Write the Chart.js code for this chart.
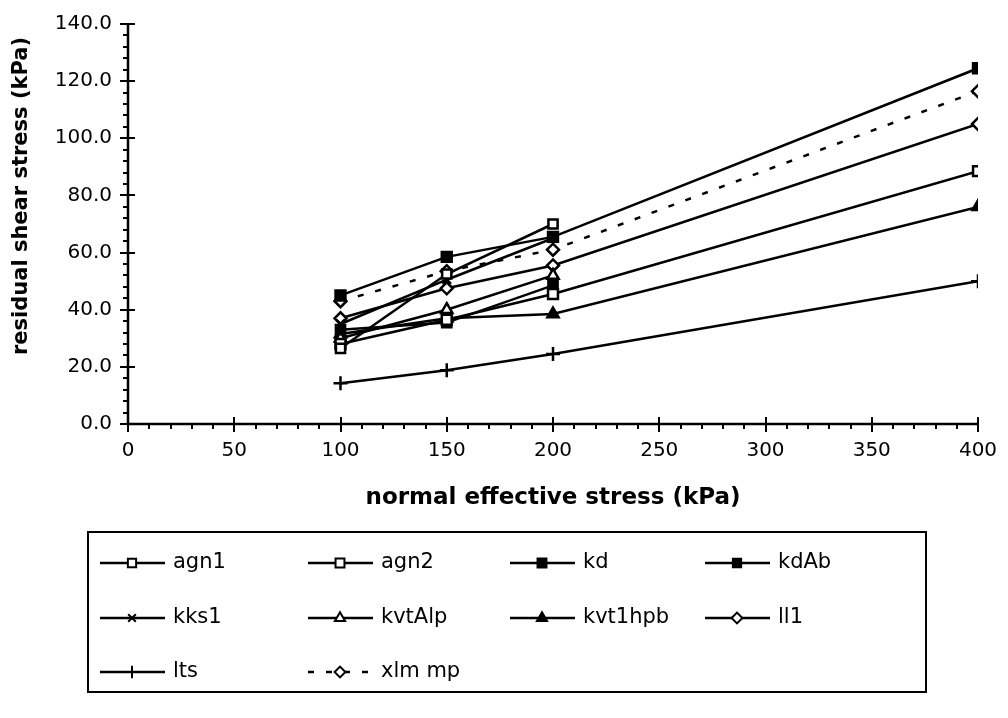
<!DOCTYPE html>
<html>
<head>
<meta charset="utf-8">
<script src="https://cdn.jsdelivr.net/npm/chart.js@4.4.0/dist/chart.umd.min.js"></script>
<style>
    html, body { margin: 0; padding: 0; background: #fff; }
</style>
</head>
<body>
<canvas id="myChart" width="1008" height="718"></canvas>
<script>
// normal effective stress levels (kPa)
const normalStress = [100, 150, 200, 400];

// residual shear stress (kPa) per sample, null where not tested
const agn1   = [26.5, 52.5, 70.0, null];
const agn2   = [28.0, 36.5, 45.5, 88.5];
const kd     = [45.0, 58.5, 65.5, 124.5];
const kdAb   = [33.0, 35.5, 48.5, null];
const kks1   = [35.0, 50.5, 65.0, null];
const kvtAlp = [30.0, 40.0, 52.0, null];
const kvt1hpb = [31.5, 37.0, 38.5, 76.0];
const ll1    = [37.0, 47.5, 55.5, 105.0];
const lts    = [14.3, 18.8, 24.5, 50.0];
const xlmMp  = [43.0, 53.5, 61.0, 116.5];

const seriesNames = ["agn1", "agn2", "kd", "kdAb", "kks1", "kvtAlp", "kvt1hpb", "ll1", "lts", "xlm mp"];
const seriesValues = [agn1, agn2, kd, kdAb, kks1, kvtAlp, kvt1hpb, ll1, lts, xlmMp];

const yTicks = [0, 20, 40, 60, 80, 100, 120, 140];
const xTicks = [0, 50, 100, 150, 200, 250, 300, 350, 400];

// marker look for each series
const markers = [
    { style: "rect", fill: "#fff", r: 6.5 },
    { style: "rect", fill: "#fff", r: 7 },
    { style: "rect", fill: "#000", r: 7 },
    { style: "rect", fill: "#000", r: 6.5 },
    { style: "crossRot", fill: "#fff", r: 6 },
    { style: "triangle", fill: "#fff", r: 6.5 },
    { style: "triangle", fill: "#000", r: 6.5 },
    { style: "rectRot", fill: "#fff", r: 6 },
    { style: "cross", fill: "#000", r: 7 },
    { style: "rectRot", fill: "#fff", r: 6 }
];

const FONT = "'DejaVu Sans', sans-serif";

const datasets = seriesNames.map((name, i) => ({
    label: name,
    data: normalStress.map((x, j) => ({ x: x, y: seriesValues[i][j] })),
    borderColor: "#000",
    borderWidth: 2.5,
    borderDash: name === "xlm mp" ? [6, 12] : [],
    pointStyle: markers[i].style,
    pointRadius: markers[i].r,
    pointBackgroundColor: markers[i].fill,
    pointBorderColor: "#000",
    pointBorderWidth: 2.5,
    spanGaps: false,
    tension: 0
}));

// axis lines with major and minor tick marks, plus the y axis title
const axisTicks = {
    id: "axisTicks",
    afterDraw(chart) {
        const { ctx, chartArea, scales } = chart;
        const x = scales.x, y = scales.y;
        ctx.save();
        ctx.strokeStyle = "#000";
        ctx.lineWidth = 2.5;
        ctx.beginPath();
        ctx.moveTo(chartArea.left, chartArea.top);
        ctx.lineTo(chartArea.left, chartArea.bottom);
        ctx.lineTo(chartArea.right, chartArea.bottom);
        ctx.stroke();
        ctx.lineWidth = 2;
        ctx.beginPath();
        for (let v = 0; v <= 400; v += 10) {
            const px = Math.round(x.getPixelForValue(v));
            const major = xTicks.includes(v);
            ctx.moveTo(px, chartArea.bottom - (major ? 7 : 0));
            ctx.lineTo(px, chartArea.bottom + (major ? 8 : 5));
        }
        for (let v = 0; v <= 140; v += 4) {
            const py = Math.round(y.getPixelForValue(v));
            const major = yTicks.includes(v);
            ctx.moveTo(chartArea.left + (major ? 7 : 0), py);
            ctx.lineTo(chartArea.left - (major ? 8 : 5), py);
        }
        ctx.stroke();

        ctx.translate(22, 196);
        ctx.rotate(-Math.PI / 2);
        ctx.font = "bold 21px " + FONT;
        ctx.fillStyle = "#000";
        ctx.textAlign = "center";
        ctx.textBaseline = "middle";
        ctx.fillText("residual shear stress (kPa)", 0, 0);
        ctx.restore();
    }
};

// boxed legend with line samples, four entries per row
const boxLegend = {
    id: "boxLegend",
    afterDraw(chart) {
        const ctx = chart.ctx;
        const colX = [100, 308, 510, 705];
        const rowY = [563, 618, 672];
        ctx.save();
        ctx.strokeStyle = "#000";
        ctx.lineWidth = 2;
        ctx.strokeRect(88, 532, 838, 160);
        ctx.font = "21px " + FONT;
        ctx.textBaseline = "middle";
        ctx.fillStyle = "#000";
        chart.data.datasets.forEach((ds, i) => {
            const lx = colX[i % 4];
            const ly = rowY[Math.floor(i / 4)];
            ctx.save();
            ctx.lineWidth = 2.5;
            ctx.setLineDash(ds.borderDash);
            ctx.beginPath();
            ctx.moveTo(lx, ly);
            ctx.lineTo(lx + 65, ly);
            ctx.stroke();
            ctx.restore();
            ctx.save();
            ctx.fillStyle = ds.pointBackgroundColor;
            ctx.strokeStyle = "#000";
            ctx.lineWidth = 2;
            Chart.helpers.drawPoint(ctx, {
                pointStyle: ds.pointStyle,
                radius: ds.pointRadius * 0.9,
                rotation: 0,
                borderWidth: 2
            }, lx + 32, ly);
            ctx.restore();
            ctx.fillText(ds.label, lx + 73, ly);
        });
        ctx.restore();
    }
};

new Chart(document.getElementById("myChart").getContext("2d"), {
    type: "line",
    data: { datasets: datasets },
    plugins: [axisTicks, boxLegend],
    options: {
        responsive: false,
        animation: false,
        layout: { padding: { left: 0, right: 30, top: 24, bottom: 194 } },
        plugins: {
            legend: { display: false },
            tooltip: { enabled: false }
        },
        scales: {
            x: {
                type: "linear",
                min: 0,
                max: 400,
                afterFit(scale) {
                    scale.height = 100;
                    scale.paddingLeft = 0;
                    scale.paddingRight = 0;
                },
                afterBuildTicks(scale) { scale.ticks = xTicks.map(v => ({ value: v })); },
                grid: { display: false, drawTicks: false },
                border: { display: false },
                ticks: { color: "#000", padding: 15, maxRotation: 0, font: { family: FONT, size: 20 } },
                title: {
                    display: true,
                    text: "normal effective stress (kPa)",
                    color: "#000",
                    padding: { top: 0, bottom: 12 },
                    font: { family: FONT, size: 23, weight: "bold" }
                }
            },
            y: {
                type: "linear",
                min: 0,
                max: 140,
                afterFit(scale) {
                    scale.width = 128;
                    scale.paddingTop = 0;
                    scale.paddingBottom = 0;
                },
                afterBuildTicks(scale) { scale.ticks = yTicks.map(v => ({ value: v })); },
                grid: { display: false, drawTicks: false },
                border: { display: false },
                ticks: {
                    color: "#000",
                    padding: 16,
                    font: { family: FONT, size: 20 },
                    callback: v => v.toFixed(1)
                },
                title: { display: false }
            }
        }
    }
});
</script>
</body>
</html>
